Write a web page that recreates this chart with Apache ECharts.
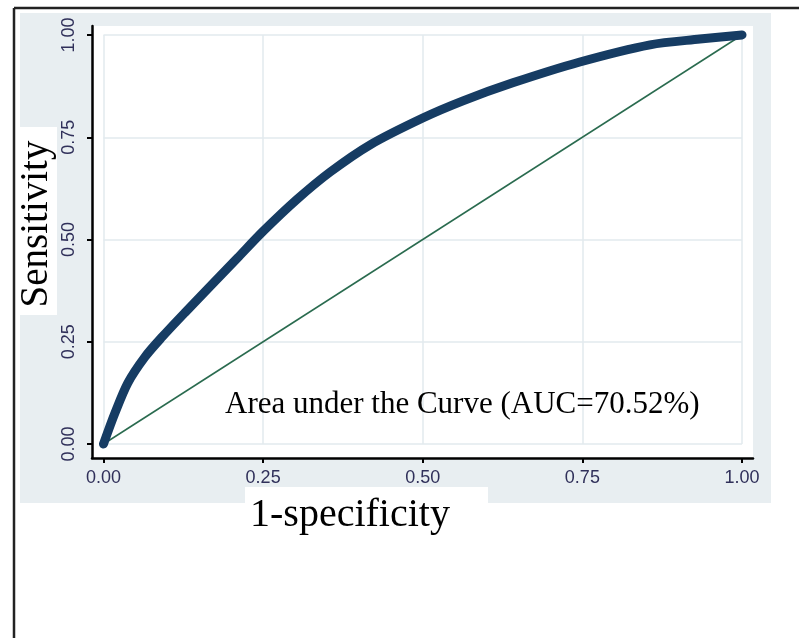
<!DOCTYPE html>
<html>
<head>
<meta charset="utf-8">
<script src="https://cdn.jsdelivr.net/npm/echarts@6/dist/echarts.min.js"></script>
<style>
html,body{margin:0;padding:0;background:#fff;}
#chart{width:799px;height:638px;}
</style>
</head>
<body>
<div id="chart"></div>
<script>
// ROC curve values
const fpr = [0, 0.018, 0.038, 0.065, 0.092, 0.128, 0.17, 0.21, 0.25, 0.303, 0.355, 0.417, 0.5, 0.563, 0.641, 0.746, 0.856, 0.934, 1];
const tpr = [0, 0.076, 0.149, 0.213, 0.262, 0.322, 0.39, 0.455, 0.52, 0.598, 0.665, 0.731, 0.797, 0.839, 0.883, 0.934, 0.976, 0.99, 1];
// reference (chance) line
const refX = [0, 1];
const refY = [0, 1];
// tick labels
const xTickLabels = ['0.00', '0.25', '0.50', '0.75', '1.00'];
const yTickLabels = ['0.00', '0.25', '0.50', '0.75', '1.00'];
const xTitle = '1-specificity';
const yTitle = 'Sensitivity';
const aucText = 'Area under the Curve (AUC=70.52%)';

const chart = echarts.init(document.getElementById('chart'), null, {renderer: 'canvas'});

const tickFont = {fontFamily: 'Liberation Sans', fontSize: 18, color: '#30305a'};
const serif = 'Liberation Serif';

const option = {
  animation: false,
  backgroundColor: '#fff',
  graphic: [
    {type: 'rect', z: -10, shape: {x: 20, y: 13, width: 751, height: 490}, style: {fill: '#e8eef1'}},
    {type: 'rect', z: -9, shape: {x: 20, y: 127, width: 37, height: 188}, style: {fill: '#fff'}},
    {type: 'rect', z: -9, shape: {x: 245, y: 487, width: 243, height: 16}, style: {fill: '#fff'}},
    {type: 'line', z: 10, shape: {x1: 14, y1: 8, x2: 799, y2: 8}, style: {stroke: '#222', lineWidth: 2.5}},
    {type: 'line', z: 10, shape: {x1: 14, y1: 8, x2: 14, y2: 638}, style: {stroke: '#222', lineWidth: 2.5}},
    {type: 'text', z: 10, x: 37, y: 224, rotation: Math.PI / 2,
      style: {text: yTitle, font: '39px "' + serif + '"', fill: '#000', align: 'center', verticalAlign: 'middle'}},
    {type: 'text', z: 10, x: 350, y: 515,
      style: {text: xTitle, font: '40px "' + serif + '"', fill: '#000', align: 'center', verticalAlign: 'middle'}},
    {type: 'text', z: 10, x: 225, y: 405,
      style: {text: aucText, font: '31px "' + serif + '"', fill: '#000', align: 'left', verticalAlign: 'middle'}}
  ],
  grid: [
    {left: 92, top: 26, right: 46, bottom: 180, show: true, backgroundColor: '#fff', borderWidth: 0},
    {left: 103.5, top: 35, right: 57, bottom: 194, show: false}
  ],
  xAxis: [
    {gridIndex: 0, type: 'value', min: -0.018, max: 1.0172,
      axisLine: {show: true, onZero: false, lineStyle: {color: '#000', width: 2.5}},
      axisTick: {show: false}, axisLabel: {show: false}, splitLine: {show: false}},
    {gridIndex: 1, type: 'value', min: 0, max: 1, interval: 0.25, offset: 14,
      axisLine: {show: false, onZero: false},
      axisTick: {show: true, length: 5, lineStyle: {color: '#000', width: 2}},
      axisLabel: Object.assign({margin: 11, formatter: v => xTickLabels[Math.round(v / 0.25)]}, tickFont),
      splitLine: {show: true, lineStyle: {color: '#e2eaee', width: 1.5}}}
  ],
  yAxis: [
    {gridIndex: 0, type: 'value', min: -0.0342, max: 1.022,
      axisLine: {show: true, onZero: false, lineStyle: {color: '#000', width: 2.5}},
      axisTick: {show: false}, axisLabel: {show: false}, splitLine: {show: false}},
    {gridIndex: 1, type: 'value', min: 0, max: 1, interval: 0.25, offset: 11.5,
      axisLine: {show: false, onZero: false},
      axisTick: {show: true, length: 5, lineStyle: {color: '#000', width: 2}},
      axisLabel: Object.assign({margin: 14, rotate: 90, formatter: v => yTickLabels[Math.round(v / 0.25)]}, tickFont),
      splitLine: {show: true, lineStyle: {color: '#e2eaee', width: 1.5}}}
  ],
  series: [
    {type: 'line', xAxisIndex: 1, yAxisIndex: 1, clip: false, z: 3,
      data: refX.map((x, i) => [x, refY[i]]), symbol: 'none',
      lineStyle: {color: '#2a6b4f', width: 1.5}},
    {type: 'line', xAxisIndex: 1, yAxisIndex: 1, clip: false, z: 4,
      data: fpr.map((x, i) => [x, tpr[i]]), symbol: 'none', smooth: 0.3,
      lineStyle: {color: '#163c63', width: 9, cap: 'round', join: 'round'}}
  ]
};
chart.setOption(option);
</script>
</body>
</html>
